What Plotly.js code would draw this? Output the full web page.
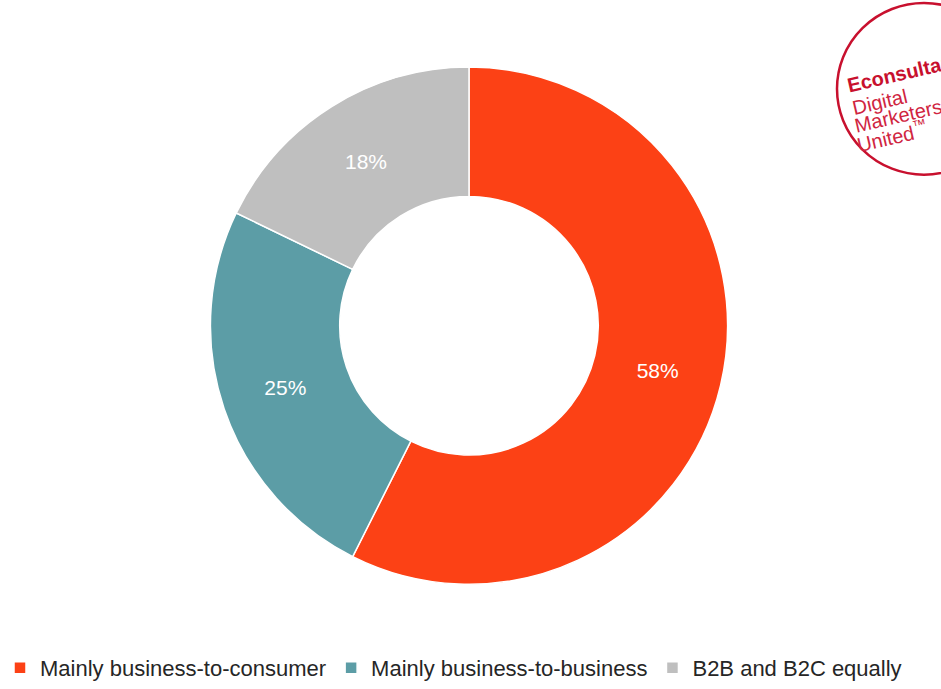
<!DOCTYPE html>
<html><head><meta charset="utf-8">
<script src="https://cdn.plot.ly/plotly-3.0.1.min.js"></script>
<style>html,body{margin:0;padding:0;background:#fff}#chart{width:941px;height:689px}</style>
</head><body><div id="chart"></div>
<script>
const categories = ["Mainly business-to-consumer", "Mainly business-to-business", "B2B and B2C equally"];
const values = [58, 25, 18];
const colors = ["#FC4115", "#5C9DA6", "#BFBFBF"];
const logoLines = ["<b>Econsultancy</b>", "Digital", "Marketers", "United<sup>™</sup>"];

const W = 941, H = 689;
const cx = 469, cy = 330, R = 262;
const FONT = "Liberation Sans, Arial, sans-serif";
const trace = {
  type: "pie", labels: categories, values: values, hole: 0.5, sort: false,
  direction: "clockwise", rotation: 0,
  marker: {colors: colors, line: {color: "#ffffff", width: 1.5}},
  texttemplate: "%{value}%", textposition: "inside", insidetextorientation: "horizontal",
  textfont: {family: FONT, size: 21, color: "#ffffff"},
  domain: {x: [(cx - R) / W, (cx + R) / W], y: [1 - (cy + R) / H, 1 - (cy - R) / H]},
  hoverinfo: "label+percent"
};
const lx = 924, ly = 90, lr = 87;
const logoPos = [[911, 72, "#C8102E", 20], [880, 103, "#D0253F", 20], [898, 118, "#D0253F", 20], [892, 137, "#D0253F", 20]];
const annotations = logoLines.map((t, i) => ({
  xref: "paper", yref: "paper", x: logoPos[i][0] / W, y: 1 - logoPos[i][1] / H,
  xanchor: "center", yanchor: "middle", text: t, showarrow: false, textangle: -13,
  font: {family: FONT, size: logoPos[i][3], color: logoPos[i][2]}
}));
const layout = {
  width: W, height: H, margin: {l: 0, r: 0, t: 0, b: 0},
  paper_bgcolor: "#fff", plot_bgcolor: "#fff",
  showlegend: true,
  legend: {orientation: "h", x: 0, xanchor: "left", y: 1 - 677 / H, yanchor: "middle",
    font: {family: FONT, size: 22, color: "#262626"}, tracegroupgap: 0},
  shapes: [{type: "circle", xref: "paper", yref: "paper",
    x0: (lx - lr) / W, x1: (lx + lr) / W, y0: 1 - (ly + lr) / H, y1: 1 - (ly - lr) / H,
    line: {color: "#C8102E", width: 2.5}, fillcolor: "rgba(0,0,0,0)"}],
  annotations: annotations
};
Plotly.newPlot("chart", [trace], layout, {displayModeBar: false, staticPlot: true});
</script></body></html>
